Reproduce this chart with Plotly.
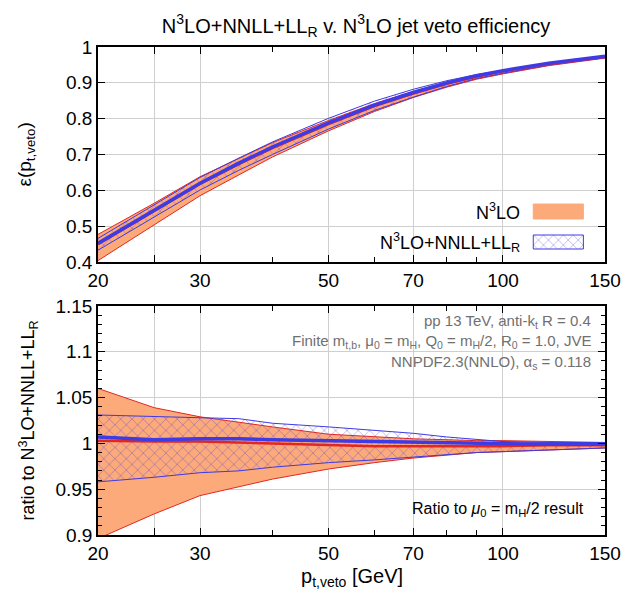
import plotly.graph_objects as go

# ---------------- data ----------------
pt = [20, 25, 30, 35, 40, 50, 60, 70, 80, 90, 100, 120, 150]

# top panel: jet veto efficiency
n3lo_lo = [0.404, 0.503, 0.585, 0.643, 0.693, 0.766, 0.820, 0.859, 0.888, 0.910, 0.925, 0.948, 0.969]
n3lo_hi = [0.477, 0.564, 0.638, 0.690, 0.733, 0.795, 0.842, 0.876, 0.902, 0.920, 0.935, 0.955, 0.974]
n3lo_c = [0.450, 0.543, 0.618, 0.673, 0.718, 0.785, 0.835, 0.870, 0.897, 0.917, 0.932, 0.953, 0.972]
res_lo = [0.433, 0.525, 0.601, 0.656, 0.700, 0.771, 0.823, 0.860, 0.890, 0.912, 0.927, 0.950, 0.970]
res_hi = [0.466, 0.560, 0.636, 0.690, 0.735, 0.801, 0.849, 0.882, 0.906, 0.923, 0.935, 0.956, 0.975]
res_c = [0.452, 0.545, 0.620, 0.676, 0.721, 0.788, 0.838, 0.873, 0.900, 0.920, 0.934, 0.955, 0.974]

# bottom panel: ratio
r_n3lo_lo = [0.896, 0.923, 0.943, 0.953, 0.961, 0.972, 0.979, 0.984, 0.987, 0.990, 0.991, 0.993, 0.995]
r_n3lo_hi = [1.060, 1.039, 1.029, 1.023, 1.018, 1.010, 1.007, 1.005, 1.004, 1.003, 1.003, 1.002, 1.001]
r_n3lo_c = [1.003, 1.002, 1.002, 1.001, 1.000, 0.998, 0.997, 0.997, 0.997, 0.997, 0.997, 0.998, 0.998]
r_res_lo = [0.958, 0.963, 0.968, 0.970, 0.974, 0.979, 0.982, 0.985, 0.988, 0.990, 0.991, 0.993, 0.995]
r_res_hi = [1.031, 1.029, 1.028, 1.027, 1.022, 1.018, 1.014, 1.011, 1.007, 1.004, 1.002, 1.001, 1.001]
r_res_c = [1.007, 1.004, 1.005, 1.005, 1.004, 1.003, 1.002, 1.002, 1.001, 1.001, 1.000, 0.999, 0.999]

x_tickvals = [20, 25, 30, 50, 70, 100, 150]
x_ticktext = ["20", "", "30", "50", "70", "100", "150"]
x_minor = [40, 60, 80, 90]
y1_tickvals = [0.4, 0.5, 0.6, 0.7, 0.8, 0.9, 1.0]
y1_ticktext = ["0.4", "0.5", "0.6", "0.7", "0.8", "0.9", "1"]
y2_tickvals = [0.9, 0.95, 1.0, 1.05, 1.1, 1.15]
y2_ticktext = ["0.9", "0.95", "1", "1.05", "1.1", "1.15"]

legend_labels = ["N<sup>3</sup>LO", "N<sup>3</sup>LO+NNLL+LL<sub>R</sub>"]

# ---------------- styles ----------------
FONT = "Liberation Sans, Arial, Helvetica, sans-serif"
ORANGE = "rgb(252,170,122)"
RED = "rgb(228,38,32)"
BLUE = "rgb(62,58,228)"
HATCH = "rgba(80,60,220,0.85)"
GRID = "#cfcfcf"

fig = go.Figure()


def add_panel(xa, ya, lo1, hi1, c1, lo2, hi2, c2):
    fig.add_trace(go.Scatter(x=pt, y=lo1, mode="lines", line=dict(color=RED, width=1),
                             xaxis=xa, yaxis=ya, showlegend=False, hoverinfo="skip"))
    fig.add_trace(go.Scatter(x=pt, y=hi1, mode="lines", line=dict(color=RED, width=1),
                             fill="tonexty", fillcolor=ORANGE,
                             xaxis=xa, yaxis=ya, showlegend=False, hoverinfo="skip"))
    fig.add_trace(go.Scatter(x=pt, y=lo2, mode="lines", line=dict(color=BLUE, width=1),
                             xaxis=xa, yaxis=ya, showlegend=False, hoverinfo="skip"))
    fig.add_trace(go.Scatter(x=pt, y=hi2, mode="lines", line=dict(color=BLUE, width=1),
                             fill="tonexty", fillcolor="rgba(0,0,0,0)",
                             fillpattern=dict(shape="x", fgcolor=HATCH,
                                              bgcolor="rgba(0,0,0,0)", size=8, solidity=0.2),
                             xaxis=xa, yaxis=ya, showlegend=False, hoverinfo="skip"))
    fig.add_trace(go.Scatter(x=pt, y=c1, mode="lines", line=dict(color=RED, width=2.5),
                             xaxis=xa, yaxis=ya, showlegend=False, hoverinfo="skip"))
    fig.add_trace(go.Scatter(x=pt, y=c2, mode="lines", line=dict(color=BLUE, width=3.5),
                             xaxis=xa, yaxis=ya, showlegend=False, hoverinfo="skip"))


add_panel("x", "y", n3lo_lo, n3lo_hi, n3lo_c, res_lo, res_hi, res_c)
add_panel("x2", "y2", r_n3lo_lo, r_n3lo_hi, r_n3lo_c, r_res_lo, r_res_hi, r_res_c)

# legend swatches on a pixel-unit overlay axis over the top panel
sw_x = [541, 592]
sw_rows = [(204, 219), (235, 249)]
(a0, a1), (b0, b1) = sw_rows
fig.add_trace(go.Scatter(x=[sw_x[0], sw_x[1], sw_x[1], sw_x[0], sw_x[0]], y=[a0, a0, a1, a1, a0],
                         mode="lines", fill="toself", fillcolor=ORANGE, line=dict(color=ORANGE, width=1),
                         xaxis="x3", yaxis="y3", showlegend=False, hoverinfo="skip"))
fig.add_trace(go.Scatter(x=[sw_x[0], sw_x[1], sw_x[1], sw_x[0], sw_x[0]], y=[b0, b0, b1, b1, b0],
                         mode="lines", fill="toself", fillcolor="rgba(0,0,0,0)",
                         fillpattern=dict(shape="x", fgcolor=HATCH,
                                          bgcolor="rgba(0,0,0,0)", size=7, solidity=0.2),
                         line=dict(color=BLUE, width=1),
                         xaxis="x3", yaxis="y3", showlegend=False, hoverinfo="skip"))

axis_common = dict(showline=True, linecolor="black", linewidth=1.5, mirror="allticks",
                   ticks="inside", ticklen=7, tickcolor="black", tickwidth=1,
                   showgrid=True, gridcolor=GRID, gridwidth=1, zeroline=False,
                   tickfont=dict(family=FONT, size=19, color="black"))

xcommon = dict(type="log", range=[1.30103, 2.176091], tickmode="array",
               tickvals=x_tickvals, ticktext=x_ticktext,
               minor=dict(tickmode="array", tickvals=x_minor, ticks="inside", ticklen=5,
                          tickcolor="black", showgrid=False),
               **axis_common)

TOP_DOM = [0.5594, 1.0]
BOT_DOM = [0.0, 0.4693]

fig.update_layout(
    width=633, height=599,
    margin=dict(l=98, r=19, t=47, b=64),
    paper_bgcolor="white", plot_bgcolor="white",
    font=dict(family=FONT, color="black"),
    showlegend=False,
    title=dict(text="N<sup>3</sup>LO+NNLL+LL<sub>R</sub> v. N<sup>3</sup>LO jet veto efficiency",
               x=0.5625, xanchor="center", y=0.957, yanchor="middle",
               font=dict(family=FONT, size=20, color="black")),
    xaxis=dict(domain=[0, 1], anchor="y", **xcommon),
    yaxis=dict(domain=TOP_DOM, anchor="x", range=[0.4, 1.0], tickmode="array",
               tickvals=y1_tickvals, ticktext=y1_ticktext, **axis_common),
    xaxis2=dict(domain=[0, 1], anchor="y2", **xcommon),
    yaxis2=dict(domain=BOT_DOM, anchor="x2", range=[0.9, 1.15], tickmode="array",
                tickvals=y2_tickvals, ticktext=y2_ticktext,
                minor=dict(dtick=0.01, tick0=0.9, ticks="inside", ticklen=4,
                           tickcolor="black", showgrid=False),
                **axis_common),
    xaxis3=dict(overlaying="x", range=[98, 614], visible=False, anchor="y3"),
    yaxis3=dict(overlaying="y", range=[262, 47], visible=False, anchor="x3"),
)

ann = []
# legend labels
ann.append(dict(text=legend_labels[0], xref="x3", yref="y3", x=530, y=(a0 + a1) / 2,
                xanchor="right", yanchor="middle", showarrow=False,
                font=dict(family=FONT, size=18, color="black")))
ann.append(dict(text=legend_labels[1], xref="x3", yref="y3", x=530, y=(b0 + b1) / 2,
                xanchor="right", yanchor="middle", showarrow=False,
                font=dict(family=FONT, size=18, color="black")))

# info text in ratio panel
info = ["pp 13 TeV, anti-k<sub>t</sub> R = 0.4",
        "Finite m<sub>t,b</sub>, μ<sub>0</sub> = m<sub>H</sub>, Q<sub>0</sub> = m<sub>H</sub>/2, R<sub>0</sub> = 1.0, JVE",
        "NNPDF2.3(NNLO), α<sub>s</sub> = 0.118"]
info_y = [0.4365, 0.3955, 0.3545]
for t, yy in zip(info, info_y):
    ann.append(dict(text=t, xref="paper", yref="paper", x=0.977, y=yy, xanchor="right",
                    yanchor="middle", showarrow=False,
                    font=dict(family=FONT, size=15, color="#707070")))
ann.append(dict(text="Ratio to <i>μ</i><sub>0</sub> = m<sub>H</sub>/2 result", xref="paper", yref="paper",
                x=0.963, y=0.052, xanchor="right", yanchor="middle", showarrow=False,
                font=dict(family=FONT, size=16, color="black")))

# axis titles
ann.append(dict(text="ε(p<sub>t,veto</sub>)", xref="paper", yref="paper", x=-0.142,
                y=(TOP_DOM[0] + TOP_DOM[1]) / 2, textangle=-90, xanchor="center",
                yanchor="middle", showarrow=False, font=dict(family=FONT, size=19, color="black")))
ann.append(dict(text="ratio to N<sup>3</sup>LO+NNLL+LL<sub>R</sub>", xref="paper", yref="paper",
                x=-0.138, y=(BOT_DOM[0] + BOT_DOM[1]) / 2, textangle=-90, xanchor="center",
                yanchor="middle", showarrow=False, font=dict(family=FONT, size=18, color="black")))
ann.append(dict(text="p<sub>t,veto</sub> [GeV]", xref="paper", yref="paper", x=0.5, y=-0.088,
                xanchor="center", yanchor="middle", showarrow=False,
                font=dict(family=FONT, size=20, color="black")))

fig.update_layout(annotations=ann)

fig.write_html("out.html")
